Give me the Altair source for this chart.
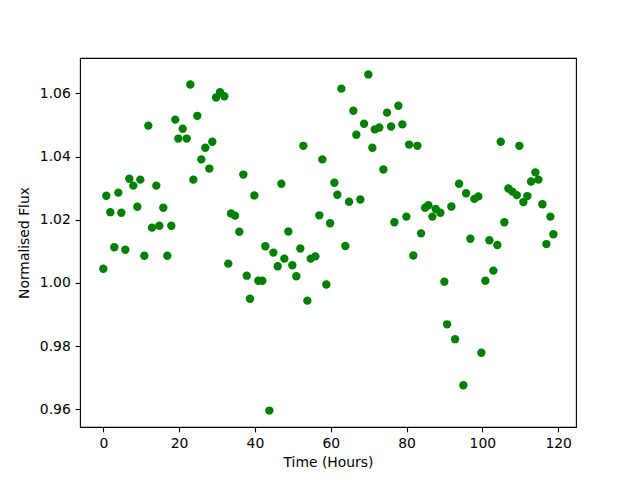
import altair as alt
import pandas as pd

time_hours = [
    0.0, 0.79, 1.85, 2.90, 3.96, 4.75, 5.80, 6.86, 7.92, 8.97,
    9.76, 10.82, 11.87, 12.85, 13.98, 14.78, 15.83, 16.89, 17.94, 19.00,
    19.79, 20.95, 22.00, 22.96, 23.75, 24.80, 25.86, 26.91, 27.97, 28.76,
    29.74, 30.79, 31.93, 32.98, 33.69, 34.75, 35.88, 36.94, 37.84, 38.70,
    39.84, 40.90, 41.95, 42.74, 43.80, 44.86, 46.02, 46.97, 47.76, 48.81,
    49.87, 50.92, 51.98, 52.77, 53.83, 54.72, 55.94, 56.99, 57.78, 58.84,
    59.82, 60.95, 61.74, 62.80, 63.85, 64.83, 65.96, 66.75, 67.81, 68.79,
    69.92, 70.98, 71.61, 72.82, 73.88, 74.85, 75.91, 76.78, 77.84, 78.89,
    79.95, 80.66, 81.79, 82.85, 83.83, 84.88, 85.75, 86.81, 87.70, 88.92,
    89.97, 90.69, 91.82, 92.80, 93.85, 94.99, 95.70, 96.83, 97.89, 98.94,
    99.74, 100.79, 101.85, 102.90, 103.96, 104.85, 105.80, 106.86, 107.92, 109.08,
    109.76, 110.82, 111.87, 112.85, 113.98, 114.78, 115.83, 116.89, 117.94, 118.73,
]

flux = [
    1.0045, 1.0276, 1.0224, 1.0113, 1.0286, 1.0222, 1.0105, 1.0330, 1.0308, 1.0241,
    1.0327, 1.0086, 1.0498, 1.0175, 1.0308, 1.0181, 1.0238, 1.0086, 1.0181, 1.0517,
    1.0457, 1.0488, 1.0457, 1.0628, 1.0327, 1.0529, 1.0391, 1.0428, 1.0362, 1.0447,
    1.0587, 1.0604, 1.0591, 1.0061, 1.0220, 1.0213, 1.0162, 1.0343, 1.0023, 0.9950,
    1.0277, 1.0007, 1.0007, 1.0116, 0.9596, 1.0096, 1.0053, 1.0314, 1.0077, 1.0163,
    1.0056, 1.0021, 1.0109, 1.0434, 0.9944, 1.0077, 1.0084, 1.0214, 1.0391, 0.9995,
    1.0189, 1.0317, 1.0279, 1.0615, 1.0117, 1.0257, 1.0545, 1.0469, 1.0264, 1.0504,
    1.0660, 1.0428, 1.0486, 1.0492, 1.0359, 1.0539, 1.0495, 1.0192, 1.0561, 1.0502,
    1.0210, 1.0438, 1.0087, 1.0434, 1.0157, 1.0238, 1.0246, 1.0210, 1.0234, 1.0222,
    1.0004, 0.9869, 1.0242, 0.9822, 1.0314, 0.9676, 1.0284, 1.0140, 1.0266, 1.0274,
    0.9779, 1.0007, 1.0135, 1.0039, 1.0120, 1.0447, 1.0192, 1.0299, 1.0289, 1.0278,
    1.0434, 1.0256, 1.0275, 1.0321, 1.0350, 1.0327, 1.0249, 1.0123, 1.0210, 1.0154,
]

x_ticks = [0, 20, 40, 60, 80, 100, 120]
y_ticks = [0.96, 0.98, 1.00, 1.02, 1.04, 1.06]

df = pd.DataFrame({"t": time_hours, "f": flux})

font = "DejaVu Sans"
fs = 13.9

chart = (
    alt.Chart(df)
    .mark_circle(color="#008000", size=70, opacity=1)
    .encode(
        x=alt.X(
            "t:Q",
            scale=alt.Scale(domain=[-6.15, 124.7], nice=False, zero=False),
            axis=alt.Axis(
                title="Time (Hours)",
                values=x_ticks,
                format="d",
                titlePadding=5,
            ),
        ),
        y=alt.Y(
            "f:Q",
            scale=alt.Scale(domain=[0.9544, 1.0712], nice=False, zero=False),
            axis=alt.Axis(
                title="Normalised Flux",
                values=y_ticks,
                format=".2f",
                titlePadding=8,
            ),
        ),
    )
    .properties(
        width=496,
        height=369,
        autosize=alt.AutoSizeParams(type="none"),
        padding={"left": 72, "top": 50, "right": 56, "bottom": 45},
        background="white",
    )
    .configure_view(stroke="black", strokeWidth=1.1)
    .configure_axis(
        grid=False,
        domain=False,
        ticks=True,
        tickColor="black",
        tickWidth=1.1,
        tickSize=4.86,
        labelPadding=4.86,
        labelFont=font,
        labelFontSize=fs,
        labelColor="black",
        titleFont=font,
        titleFontSize=fs,
        titleFontWeight="normal",
        titleColor="black",
        labelFlush=False,
        labelOverlap=False,
    )
)

chart.save("out.html", embed_options={"renderer": "svg", "actions": False})
